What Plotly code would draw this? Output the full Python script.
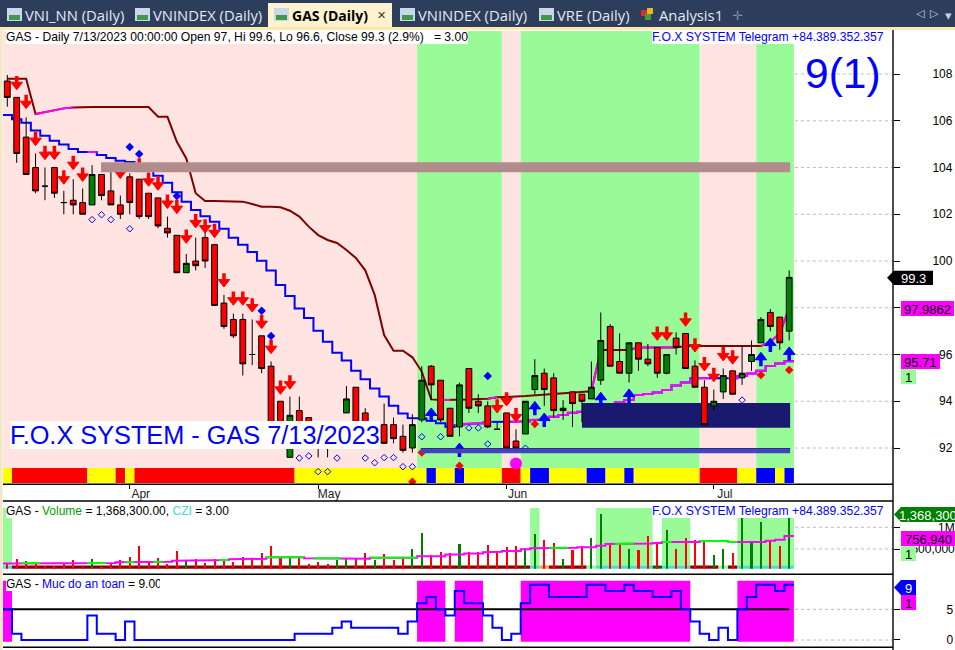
import plotly.graph_objects as go

# ---------- data ----------
bar_index = list(range(84))
opens = [107.7,107.0,105.3,104.0,103.2,104.0,102.5,102.6,102.5,102.4,103.7,103.0,102.4,103.6,103.5,102.9,102.7,101.4,101.1,99.5,
         100.0,101.0,100.7,98.2,97.5,97.5,96.0,96.8,95.5,94.0,91.6,93.6,93.3,92.7,92.0,92.1,93.5,94.6,93.5,92.5,
         93.0,93.0,92.5,92.0,93.2,95.5,94.9,93.7,92.9,95.4,94.0,93.8,92.8,93.5,92.3,92.6,94.5,95.2,95.0,93.6,
         94.4,94.3,94.1,94.9,97.2,95.7,95.2,96.5,95.8,96.3,95.2,96.7,96.9,95.5,94.6,93.8,94.4,95.3,95.0,95.7,
         96.5,97.8,97.6,97.0]
highs = [107.96,107.0,106.15,104.6,104.0,104.0,103.0,103.5,103.1,104.1,103.7,103.8,102.8,103.75,103.5,102.9,102.7,101.9,101.1,100.3,
         101.0,101.3,100.7,98.55,97.75,97.75,97.5,96.8,95.7,94.0,94.2,94.2,93.3,92.7,92.3,92.6,94.65,94.6,93.7,93.0,
         93.9,93.3,93.0,93.45,95.5,95.55,94.9,93.7,94.8,95.4,94.3,94.0,93.1,93.5,92.8,94.0,95.8,95.4,95.2,94.05,
         94.4,94.3,95.7,97.8,97.3,96.9,96.5,96.5,96.45,96.3,96.0,96.95,96.9,95.75,94.9,94.5,95.4,95.3,96.4,96.6,
         97.6,97.95,97.6,99.6]
lows = [106.6,104.2,103.7,102.9,102.6,102.7,102.0,102.0,102.0,102.4,102.6,102.4,101.8,102.0,101.8,101.8,101.4,101.0,99.5,99.5,
        99.6,99.7,98.1,97.1,96.7,95.1,95.55,95.2,92.9,92.9,91.6,92.9,92.7,91.6,91.6,92.0,93.5,93.0,92.8,92.4,
        92.2,92.2,91.8,91.8,93.1,94.05,93.1,92.5,92.5,93.5,93.5,92.85,92.8,92.0,92.0,92.6,94.3,93.8,93.3,93.2,
        92.9,93.1,94.1,94.7,95.5,95.2,94.8,95.3,95.5,95.0,95.15,96.0,95.4,94.6,93.0,93.6,94.1,94.3,94.7,95.3,
        96.5,97.0,96.2,96.6]
closes = [107.0,104.6,103.7,103.0,103.2,102.9,102.5,102.4,102.0,103.7,102.8,102.4,102.0,102.5,101.9,101.9,101.5,101.2,99.5,99.9,
          99.8,100.0,98.1,97.2,96.8,95.6,96.0,95.4,92.9,92.9,93.4,93.0,92.8,92.2,92.0,92.4,94.1,93.1,93.0,92.9,
          92.2,92.4,91.9,93.0,94.9,94.7,93.2,92.5,94.7,93.7,93.8,92.9,92.8,92.0,92.0,94.0,95.1,94.5,93.6,93.7,
          93.9,94.0,94.6,96.6,95.5,95.2,96.5,95.8,95.6,95.2,96.0,96.3,95.4,94.6,93.0,94.0,95.1,94.3,95.2,96.0,
          97.5,97.2,96.5,99.3]

upper_stop = [107.8,107.8,107.8,106.29,106.37,106.46,106.53,106.57,106.59,106.59,106.59,106.59,106.59,106.59,106.59,106.59,106.17,106.17,105.1,104.39,
              102.9,102.57,102.57,102.57,102.57,102.54,102.44,102.32,102.32,102.3,102.15,101.9,101.47,101.11,100.9,100.77,100.47,100.13,99.6,98.55,
              96.83,96.16,96.16,95.88,95.27,94.08,94.05,94.05,94.08,94.08,94.1,94.11,94.17,94.2,94.2,94.22,94.25,94.28,94.31,94.31,
              94.35,94.4,94.43,96.19,96.19,96.19,96.19,96.3,96.3,96.3,96.3,96.3,96.36,96.36,96.36,96.36,96.36,96.36,96.36,96.36,
              96.36,96.55,96.9,97.99]
upper_magenta_runs = [(3,7),(46,47),(51,52),(62,63),(66,71),(80,83)]

lower_stop = [106.25,106.06,105.92,105.58,105.36,105.15,104.98,104.79,104.66,104.66,104.53,104.41,104.29,104.24,104.12,103.89,103.65,103.35,102.94,102.54,
              102.18,101.92,101.68,101.38,101.0,100.7,100.38,100.01,99.59,98.97,98.5,97.97,97.56,97.02,96.55,96.08,95.74,95.31,94.94,94.55,
              94.2,93.81,93.48,93.28,93.26,93.17,93.06,92.91,92.98,93.03,93.06,93.11,93.11,93.11,93.11,93.14,93.2,93.22,93.34,93.41,
              93.51,93.55,93.7,93.8,93.88,93.95,94.05,94.27,94.31,94.37,94.48,94.67,94.8,94.98,94.98,94.98,94.98,94.98,95.08,95.19,
              95.31,95.51,95.62,95.71]
lower_magenta_runs = [(9,9),(48,51),(54,74),(77,83)]

down_arrow_x = [1,2,3,4,5,6,7,8,12,14,15,16,17,18,19,20,21,22,23,24,25,26,27,28,29,30,52,53,54,69,70,72,73,74,75,76,77]
down_arrow_y = [107.54,106.73,105.15,104.55,104.55,103.5,104.12,103.62,103.74,104.02,103.41,103.24,102.46,102.24,100.97,101.63,101.41,101.21,
                99.1,98.32,98.32,98.03,97.32,96.25,94.51,94.73,93.71,94.01,93.33,96.82,96.82,97.42,96.32,95.51,95.05,95.94,95.8]
up_arrow_x = [45,48,56,57,63,66,80,81,83]
up_arrow_y = [93.5,92.0,93.78,93.28,94.17,94.31,95.88,96.49,96.11]

blue_diamond_x = [13,14,18,27,28,51]
blue_diamond_y = [104.88,104.58,102.78,97.87,96.79,95.08]
red_diamond_x = [43,44,48,56,80,83]
red_diamond_y = [90.56,91.81,91.24,93.03,95.12,95.34]
open_diamond_x = [9,10,11,13,31,32,33,34,35,38,39,40,41,42,43,44,46,49,50,51,55,78]
open_diamond_y = [101.77,101.98,101.77,101.38,91.57,91.66,90.99,90.99,91.57,91.57,91.37,91.59,91.59,91.2,91.2,92.48,92.48,92.86,92.86,92.17,91.99,94.05]
pink_dot_x = [54]
pink_dot_y = [91.34]

volume = [316,364,341,323,294,291,306,352,285,364,285,306,352,387,550,327,379,306,469,341,
          364,320,364,348,330,387,371,440,550,387,400,379,310,330,310,352,371,364,440,352,
          426,352,379,500,843,408,454,435,587,450,450,568,450,533,550,511,807,667,606,364,
          484,550,718,1529,568,606,500,484,757,587,917,500,710,667,646,413,500,440,1389,619,
          1184,667,550,1368.3]
volume_green = [9,19,30,35,36,39,43,44,48,55,56,59,62,63,66,70,75,76,78,79,80,83]
volume_ma = [316,320,320,320,320,320,320,320,320,320,320,320,327,327,327,333,333,333,345,345,
             345,352,352,352,360,360,367,367,384,384,384,384,371,371,371,371,367,367,367,379,
             379,379,379,379,396,396,396,421,421,435,435,450,459,469,469,496,511,511,522,522,
             522,528,528,554,587,587,594,594,594,606,625,625,625,625,646,646,646,625,625,625,
             625,652,674,757]
volume_ma_green_runs = [(2,3),(9,10),(13,13),(16,16),(23,23),(28,31),(33,35),(39,43),(58,59),(65,66),(70,70),(74,77)]

safety = [5,1,0,0,0,0,0,0,0,4,1,1,0,3,0,0,0,0,0,0,
          0,0,0,0,0,0,0,0,0,0,0,1,1,1,1,2,3,2,2,2,
          2,2,1,3,6,7,5,4,8,6,6,4,2,0,1,6,9,9,7,7,
          7,7,9,9,8,8,9,8,8,7,7,8,5,3,1,0,2,0,5,7,
          9,9,8,9]

price_ticks = [92,94,96,98,100,102,104,106,108]
volume_ticks = [500000,1000000]
safety_ticks = [0,5]
month_ticks = [13,33,53,75]
month_labels = ["Apr","May","Jun","Jul"]

zones = [(-0.5,43.5,"#FFE4E1"),(43.5,52.5,"#98FB98"),(52.5,54.5,"#FFE4E1"),(54.5,73.5,"#98FB98"),(73.5,79.5,"#FFE4E1"),(79.5,83.5,"#98FB98")]
ribbon = [(-0.5,0.5,"#FFFF00"),(0.5,8.5,"#FF0000"),(8.5,11.5,"#FFFF00"),(11.5,12.5,"#FF0000"),(12.5,13.5,"#FFFF00"),(13.5,30.5,"#FF0000"),
          (30.5,44.5,"#FFFF00"),(44.5,45.5,"#0000FF"),(45.5,47.5,"#FFFF00"),(47.5,48.5,"#0000FF"),(48.5,52.5,"#FFFF00"),(52.5,54.5,"#FF0000"),
          (54.5,55.5,"#FFFF00"),(55.5,57.5,"#0000FF"),(57.5,61.5,"#FFFF00"),(61.5,63.5,"#0000FF"),(63.5,65.5,"#FFFF00"),(65.5,66.5,"#0000FF"),
          (66.5,73.5,"#FFFF00"),(73.5,77.5,"#FF0000"),(77.5,79.5,"#FFFF00"),(79.5,81.5,"#0000FF"),(81.5,82.5,"#FFFF00"),(82.5,83.5,"#0000FF")]
czi_strip = [(-0.5,0.5,"#40E0D0"),(0.5,55.5,"#8B0000"),(55.5,56.5,"#40E0D0"),(56.5,57.5,"#FFA050"),(57.5,61.5,"#8B0000"),(61.5,62.5,"#98FB98"),
             (62.5,68.5,"#40E0D0"),(68.5,69.5,"#006400"),(69.5,72.5,"#40E0D0"),(72.5,75.5,"#8B0000"),(75.5,76.5,"#98FB98"),(76.5,77.5,"#8B0000"),(77.5,83.5,"#40E0D0")]
volume_zones = [(-0.5,0.5,508),(55.5,56.5,508),(62.5,68.5,508),(69.5,72.5,518),(77.5,83.5,518)]
safety_zones = [(-0.5,0.5),(43.5,46.5),(47.5,50.5),(54.5,72.5),(77.5,83.5)]

tabs = [("VNI_NN (Daily)",25,7),("VNINDEX (Daily)",153,135),("VNINDEX (Daily)",418,400),("VRE (Daily)",557,539)]

FONT = "Liberation Sans"
W, H = 955, 650
X = lambda px: px / W
Y = lambda py: 1 - py / H


def step_xy(values, a, b):
    xs, ys = [], []
    for i in range(a, b + 1):
        xs += [i - 0.5, i + 0.5]
        ys += [values[i], values[i]]
    return xs, ys


def runs_xy(values, runs):
    xs, ys = [], []
    for a, b in runs:
        sx, sy = step_xy(values, a, b)
        xs += sx + [None]
        ys += sy + [None]
    return xs, ys


def line_runs_xy(values, runs):
    xs, ys = [], []
    for a, b in runs:
        xs += list(range(a, b + 1)) + [None]
        ys += values[a:b + 1] + [None]
    return xs, ys


fig = go.Figure()

# --- lower layer of the price pane
fig.add_trace(go.Scatter(x=bar_index, y=upper_stop, mode="lines", line=dict(color="#800000", width=2), xaxis="x", yaxis="y"))
ux, uy = line_runs_xy(upper_stop, upper_magenta_runs)
fig.add_trace(go.Scatter(x=ux, y=uy, mode="lines", line=dict(color="#FF00FF", width=2), xaxis="x", yaxis="y"))
lx, ly = step_xy(lower_stop, 0, 83)
fig.add_trace(go.Scatter(x=lx, y=ly, mode="lines", line=dict(color="#0000FF", width=2), xaxis="x", yaxis="y"))
mx, my = runs_xy(lower_stop, lower_magenta_runs)
fig.add_trace(go.Scatter(x=mx, y=my, mode="lines", line=dict(color="#FF00FF", width=2), xaxis="x", yaxis="y"))
# navy block sits over the lines and under the candles
fig.add_trace(go.Scatter(x=[61, 83.1, 83.1, 61, 61], y=[92.87, 92.87, 93.93, 93.93, 92.87], mode="lines",
                         fill="toself", fillcolor="#191970", line=dict(color="#191970", width=0), xaxis="x", yaxis="y"))

# --- upper layer of the price pane
fig.add_trace(go.Candlestick(x=bar_index, open=opens, high=highs, low=lows, close=closes, xaxis="x", yaxis="y4",
                             whiskerwidth=0,
                             increasing=dict(line=dict(color="#000000", width=1), fillcolor="#008000"),
                             decreasing=dict(line=dict(color="#000000", width=1), fillcolor="#FF0000")))
fig.add_trace(go.Scatter(x=down_arrow_x, y=down_arrow_y, mode="markers", xaxis="x", yaxis="y4",
                         marker=dict(symbol="triangle-down", size=10, color="#FF0000", line=dict(color="#FF0000", width=1)),
                         error_y=dict(type="constant", symmetric=False, value=0.38, valueminus=0, thickness=3.5, width=0, color="#FF0000")))
fig.add_trace(go.Scatter(x=up_arrow_x, y=up_arrow_y, mode="markers", xaxis="x", yaxis="y4",
                         marker=dict(symbol="triangle-up", size=10, color="#0000FF", line=dict(color="#0000FF", width=1)),
                         error_y=dict(type="constant", symmetric=False, value=0, valueminus=0.38, thickness=3.5, width=0, color="#0000FF")))
fig.add_trace(go.Scatter(x=blue_diamond_x, y=blue_diamond_y, mode="markers", xaxis="x", yaxis="y4",
                         marker=dict(symbol="diamond", size=6.5, color="#0000FF")))
fig.add_trace(go.Scatter(x=red_diamond_x, y=red_diamond_y, mode="markers", xaxis="x", yaxis="y4",
                         marker=dict(symbol="diamond", size=6.5, color="#FF0000")))
fig.add_trace(go.Scatter(x=open_diamond_x, y=open_diamond_y, mode="markers", xaxis="x", yaxis="y4",
                         marker=dict(symbol="diamond-open", size=5, color="#0000FF", line=dict(color="#0000FF", width=1))))
fig.add_trace(go.Scatter(x=pink_dot_x, y=pink_dot_y, mode="markers", xaxis="x", yaxis="y4",
                         marker=dict(symbol="circle", size=12, color="#FF00FF")))

# --- volume pane
bar_colors = ["#008000" if i in volume_green else "#FF0000" for i in bar_index]
fig.add_trace(go.Bar(x=bar_index, y=[v * 1000 for v in volume], marker=dict(color=bar_colors, line=dict(width=0)), width=0.22, xaxis="x", yaxis="y2"))
vx, vy = step_xy([v * 1000 for v in volume_ma], 0, 83)
fig.add_trace(go.Scatter(x=vx, y=vy, mode="lines", line=dict(color="#FF00FF", width=2), xaxis="x", yaxis="y2"))
gx, gy = runs_xy([v * 1000 for v in volume_ma], volume_ma_green_runs)
fig.add_trace(go.Scatter(x=gx, y=gy, mode="lines", line=dict(color="#00FF00", width=2), xaxis="x", yaxis="y2"))

# --- safety pane
fig.add_trace(go.Scatter(x=[-0.5, 83], y=[5, 5], mode="lines", line=dict(color="#000000", width=2), xaxis="x", yaxis="y3"))
sx, sy = step_xy(safety, 0, 83)
fig.add_trace(go.Scatter(x=sx, y=sy, mode="lines", line=dict(color="#0000FF", width=2), xaxis="x", yaxis="y3"))

shapes = []
annotations = []


def rect(x0, x1, y0, y1, color, xref="x", yref="y", layer="below"):
    shapes.append(dict(type="rect", xref=xref, yref=yref, x0=x0, x1=x1, y0=y0, y1=y1,
                       fillcolor=color, line=dict(width=0), layer=layer))


def prect(x0, x1, y0, y1, color, layer="above"):
    rect(X(x0), X(x1), Y(y1), Y(y0), color, "paper", "paper", layer)


def pline(x0, x1, y0, y1, color="#000000", width=1, dash="solid", layer="above"):
    shapes.append(dict(type="line", xref="paper", yref="paper", x0=X(x0), x1=X(x1), y0=Y(y0), y1=Y(y1),
                       line=dict(color=color, width=width, dash=dash), layer=layer))


def text(x, y, s, size=12, color="#000000", anchor="left", family=FONT, bg=None, width=None, height=None):
    a = dict(xref="paper", yref="paper", x=X(x), y=Y(y), text=s, showarrow=False, xanchor=anchor, yanchor="middle",
             font=dict(family=family, size=size, color=color), borderpad=0, borderwidth=0, align="left")
    if bg:
        a["bgcolor"] = bg
    if width:
        a["width"] = width
    if height:
        a["height"] = height
    annotations.append(a)


def tag(x0, x1, y0, y1, color, s, txt="#000000", pointer=False):
    if pointer:
        shapes.append(dict(type="path", xref="paper", yref="paper", layer="above", fillcolor=color, line=dict(width=0),
                           path="M %.5f %.5f L %.5f %.5f L %.5f %.5f L %.5f %.5f L %.5f %.5f Z" % (
                               X(x0 - 7), Y((y0 + y1) / 2), X(x0), Y(y0), X(x1), Y(y0), X(x1), Y(y1), X(x0), Y(y1))))
    else:
        prect(x0, x1, y0, y1, color)
    text((x0 + x1) / 2, (y0 + y1) / 2 + 0.5, s, size=13, color=txt, anchor="center")


# pane backgrounds
for a, b, c in zones:
    rect(a, b, 91.145, 109.84, c)
for a, b, c in ribbon:
    rect(a, b, 90.5, 91.145, c)
for p in price_ticks:
    shapes.append(dict(type="line", xref="x", yref="y", x0=83.6, x1=94, y0=p, y1=p, layer="below",
                       line=dict(color="#BBBBBB", width=1, dash="dot")))

for a, b, top in volume_zones:
    shapes.append(dict(type="rect", xref="x", yref="paper", x0=a, x1=b, y0=Y(565.5), y1=Y(top), fillcolor="#98FB98",
                       line=dict(width=0), layer="below"))
for a, b, c in czi_strip:
    shapes.append(dict(type="rect", xref="x", yref="paper", x0=a, x1=b, y0=Y(568.7), y1=Y(565.5), fillcolor=c,
                       line=dict(width=0), layer="below"))
for a, b in safety_zones:
    rect(a, b, -0.27, 9.64, "#FF00FF", yref="y3")
pline(795, 893, 527.3, 527.3, "#BBBBBB", 1, "dot", "below")
pline(795, 893, 549, 549, "#BBBBBB", 1, "dot", "below")
pline(795, 893, 609.3, 609.3, "#BBBBBB", 1, "dot", "below")
pline(795, 893, 640, 640, "#BBBBBB", 1, "dot", "below")

# bands drawn over the candles
rect(9.95, 83.1, 103.8, 104.22, "#B08C8C", layer="above")
rect(43.9, 83.1, 91.78, 91.99, "#4343C3", layer="above")
rect(43.9, 83.1, 91.96, 91.99, "#191970", layer="above")

# frame lines
pline(893, 893, 29, 650, width=1.4)
pline(3, 893, 484.3, 484.3, width=1.4)
pline(3, 893, 501, 501, width=1.4)
pline(3, 893, 574.3, 574.3, width=1.4)
pline(3, 893, 647.3, 647.3, width=1.4)
prect(0, 2.5, 27, 650, "#F3E7C4")

# tab strip
prect(0, 955, 0, 27, "#2D3E5C")
prect(0, 955, 27, 30, "#FFE9B0")
prect(268, 392, 3, 27, "#FFF2CF")
for label, tx, ix in tabs:
    text(tx, 15, label, size=14.8, color="#E3E8F0", family="Open Sans")
    prect(ix, ix + 15, 8, 21, "#C8D8E8")
    prect(ix + 2, ix + 13, 15, 20, "#3E9A4A")
prect(274, 289, 8, 21, "#C8D8E8")
prect(276, 287, 15, 20, "#3E9A4A")
text(292, 15, "<b>GAS (Daily)</b>", size=14, color="#000000", family="Open Sans")
text(377, 15, "✕", size=11, color="#333333", family="DejaVu Sans")
prect(641, 647, 10, 16, "#D83030")
prect(647, 653, 8, 14, "#E8B820")
prect(645, 651, 14, 20, "#40A040")
text(659, 15, "Analysis1", size=14.8, color="#E3E8F0", family="Open Sans")
text(737, 15, "✛", size=13, color="#8090A8", family="DejaVu Sans", anchor="center")
text(920, 14, "◁", size=11, color="#C8D0DC", family="DejaVu Sans", anchor="center")
text(934, 14, "▷", size=11, color="#C8D0DC", family="DejaVu Sans", anchor="center")
text(948, 15, "▾", size=13, color="#C8D0DC", family="DejaVu Sans", anchor="center")

# pane titles
text(6, 37, "GAS - Daily 7/13/2023 00:00:00 Open 97, Hi 99.6, Lo 96.6, Close 99.3 (2.9%)&nbsp;&nbsp;&nbsp;= 3.00", size=12.15, bg="#FFFFFF", width=462, height=14)
TELE = "F.O.X SYSTEM Telegram +84.389.352.357"
text(652, 37, TELE, size=12.15, color="#0000FF", bg="#FFFFFF", width=234, height=14)
text(805, 73, "9(1)", size=42.5, color="#0000FF")
text(10, 435, "F.O.X SYSTEM - GAS 7/13/2023", size=25.3, color="#0000FF", bg="#FFFFFF", width=370, height=28)
text(6, 511, "GAS - <span style='color:#00A000'>Volume</span> = 1,368,300.00, <span style='color:#40E0D0'>CZI</span> = 3.00", bg="#FFFFFF", width=224, height=14)
text(652, 511, TELE, size=12.15, color="#0000FF", bg="#FFFFFF", width=234, height=14)
text(6, 584, "GAS - <span style='color:#0000FF'>Muc do an toan</span> = 9.00", bg="#FFFFFF", width=154, height=14)

# value tags
tag(894, 933, 270.7, 285, "#000000", "99.3", "#FFFFFF", pointer=True)
tag(901, 954, 301, 316, "#FF00FF", "97.9862")
tag(901, 940, 354, 369, "#FF00FF", "95.71")
tag(901, 916, 369, 384, "#98FB98", "1")
tag(901, 955, 507, 522, "#008000", "1,368,300", "#FFFFFF", pointer=True)
tag(901, 955, 531, 546, "#FF00FF", "756,940")
tag(901, 916, 546, 561, "#98FB98", "1")
tag(901, 916, 580, 595, "#0000FF", "9", "#FFFFFF", pointer=True)
tag(901, 916, 595, 610, "#FF00FF", "1")

NB = "\u00a0"
tick_font = dict(family=FONT, size=12, color="#000000")
fig.update_layout(
    width=W, height=H, autosize=False, margin=dict(l=0, r=0, t=0, b=0),
    paper_bgcolor="#FFFFFF", plot_bgcolor="#FFFFFF", showlegend=False, hovermode=False,
    boxgap=0.12, bargap=0, barmode="overlay",
    shapes=shapes, annotations=annotations,
    xaxis=dict(domain=[X(3), X(893)], range=[-0.456, 94.02], anchor="y", tickmode="array", tickvals=month_ticks, ticktext=month_labels,
               ticks="outside", ticklen=4, tickcolor="#000000", tickfont=dict(family=FONT, size=12, color="#222222"),
               ticklabelshift=11, ticklabelstandoff=-6, showgrid=False, zeroline=False, rangeslider=dict(visible=False), showline=False),
    yaxis=dict(domain=[Y(484.3), Y(31)], range=[90.447, 109.84], side="right", anchor="x", tickmode="array", tickvals=price_ticks,
               ticktext=[(NB * 2 if p < 100 else "") + str(p) for p in price_ticks], ticks="outside", ticklen=6, tickcolor="#000000",
               tickfont=tick_font, ticklabelstandoff=30, showgrid=False, zeroline=False),
    yaxis4=dict(overlaying="y", range=[90.447, 109.84], side="right", anchor="x", visible=False, showgrid=False, zeroline=False),
    yaxis2=dict(domain=[Y(568.7), Y(502)], type="log", range=[5.426, 6.351], side="right", anchor="x", tickmode="array", tickvals=volume_ticks,
                ticktext=["500,000", NB * 8 + "1M"], ticks="outside", ticklen=6, tickcolor="#000000", tickfont=tick_font,
                ticklabelstandoff=9, showgrid=False, zeroline=False),
    yaxis3=dict(domain=[Y(647.3), Y(574.3)], range=[-1.19, 10.7], side="right", anchor="x", tickmode="array", tickvals=safety_ticks,
                ticktext=[str(t) for t in safety_ticks], ticks="outside", ticklen=6, tickcolor="#000000", tickfont=tick_font,
                ticklabelstandoff=44, showgrid=False, zeroline=False),
)

fig.write_html("out.html", config=dict(displayModeBar=False), post_script="document.body.style.margin='0';document.body.style.overflow='hidden';")
